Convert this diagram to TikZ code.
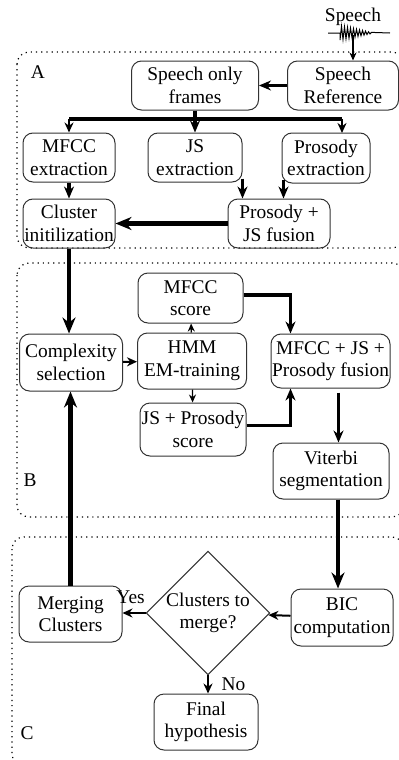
\documentclass[tikz,border=0pt]{standalone}
\usepackage{fontspec}
\setmainfont{Liberation Serif}
\usetikzlibrary{arrows.meta,shapes.geometric}

\begin{document}
\begin{tikzpicture}[x=0.5pt,y=-0.5pt,
        font=\fontsize{9.7}{11.3}\selectfont,
        box/.style={draw=black!80, line width=0.5pt, rounded corners=5pt, align=center, inner sep=0.5pt, minimum height=25pt},
        stage/.style={dotted, line width=0.6pt, rounded corners=6pt},
        thn/.style={-{Stealth[length=4pt,width=3.5pt]}, line width=0.6pt},
        med/.style={-{Stealth[length=5pt,width=4.5pt]}, line width=1pt},
        thk/.style={-{Stealth[length=6pt,width=5pt]}, line width=1.6pt},
        fat/.style={-{Stealth[length=8pt,width=6.5pt]}, line width=2.3pt}]
    \useasboundingbox (0,0) rectangle (399,760);

    % stages
    \draw[stage] (17,52) rectangle (404,248);
    \draw[stage] (17,263) rectangle (404,517);
    \draw[stage] (12,537) rectangle (404,766);
    \node (labA) at (38,72) {A};
    \node (labB) at (30,480) {B};
    \node (labC) at (27,733) {C};

    % input signal
    \node (speech) at (353,17) {Speech};
    \coordinate (wave) at (353,35);
    \draw[line width=0.5pt] (328,33) -- (340,33)
        \foreach \i in {0,...,21} { -- ({340+1.5*\i},{33+(mod(\i,2)==0 ? 1 : -1)*7*(1-\i/23)}) } -- (390,33);

    % A
    \node[box, minimum width=55.5pt, minimum height=24.5pt] (ref) at (343,85.5) {Speech\\Reference};
    \node[box, minimum width=63.5pt, minimum height=24.5pt] (frames) at (195,85.5) {Speech only\\frames};
    \node[box, minimum width=46pt, minimum height=24.5pt] (mfccx) at (69,157.5) {MFCC\\extraction};
    \node[box, minimum width=47pt, minimum height=24.5pt] (jsx) at (195,157.5) {JS\\extraction};
    \node[box, minimum width=44pt, minimum height=25pt] (prosx) at (326,158) {Prosody\\extraction};
    \node[box, minimum width=46pt, minimum height=24.5pt] (clinit) at (69,223.5) {Cluster\\initilization};
    \node[box, minimum width=51pt, minimum height=24.5pt] (pjfus) at (279,223.5) {Prosody +\\JS fusion};

    % B
    \node[box, minimum width=52.5pt] (mfccs) at (190.5,298) {MFCC\\score};
    \node[box, minimum width=54.5pt, minimum height=28pt] (hmm) at (192,361) {HMM\\EM-training};
    \node[box, minimum width=53pt, minimum height=26.5pt] (jsps) at (193,429.5) {JS + Prosody\\score};
    \node[box, minimum width=51.5pt, minimum height=28.5pt] (compl) at (71,362.5) {Complexity\\selection};
    \node[box, minimum width=59.5pt, minimum height=27pt] (fus) at (330.5,361) {MFCC + JS +\\Prosody fusion};
    \node[box, minimum width=58pt, minimum height=28pt] (vit) at (331,471) {Viterbi\\segmentation};

    % C
    \node[box, minimum width=51.5pt, minimum height=28pt] (merge) at (70.5,614) {Merging\\Clusters};
    \node[draw=black!80, line width=0.5pt, diamond, align=center, inner sep=0pt,
          minimum width=60pt, minimum height=54pt] (dec) at (208,613) {Clusters to\\merge?};
    \node[box, minimum width=51pt, minimum height=28.5pt] (bic) at (342,617.5) {BIC\\computation};
    \node[box, minimum width=52pt, minimum height=28pt] (final) at (206,722) {Final\\hypothesis};

    % connections A
    \draw[thn] (wave) -- (wave |- ref.north);
    \draw[thk] (ref) -- (frames);
    \coordinate (split) at (195,119);
    \draw[line width=1.6pt] (frames.south) -- (split);
    \draw[line width=1.6pt] (split -| mfccx) -- (342,119);
    \draw[med] (split -| mfccx) -- (mfccx.north);
    \draw[thk] (split) -- (jsx.north);
    \draw[med] (342,119) -- (342,133);
    \draw[thk] (mfccx) -- (clinit);
    \draw[thk] ([yshift=2pt]jsx.south east) -- (jsx.south east |- pjfus.north);
    \draw[thk] ([xshift=1pt,yshift=2pt]prosx.south west) -- ([xshift=1pt]prosx.south west |- pjfus.north);
    \draw[fat] (pjfus) -- (clinit);

    % connections B
    \draw[fat] (clinit.south) -- (clinit.south |- compl.north);
    \draw[med] (compl) -- (hmm);
    \draw[thn] (hmm) -- (mfccs);
    \draw[thn] (hmm) -- (jsps);
    \draw[thk] ([yshift=1.5pt]mfccs.east) -| ([xshift=-20pt]fus.north);
    \draw[thk] ([yshift=2pt]jsps.east) -| ([xshift=-20pt]fus.south);
    \draw[thk] ([xshift=4pt,yshift=-2pt]fus.south) -- ([xshift=4pt]fus.south |- vit.north);

    % connections C
    \draw[fat] ([xshift=3.5pt]vit.south) -- ([xshift=3.5pt]vit.south |- bic.north);
    \draw[med] (bic) -- (dec);
    \draw[med] (dec.west) -- (merge.east |- dec.west) node[pos=0.65, above=1pt] {Yes};
    \draw[med] (dec.south) -- (dec.south |- final.north) node[midway, right=3pt] {No};
    \draw[fat] (merge.north) -- (merge.north |- compl.south);
\end{tikzpicture}
\end{document}
